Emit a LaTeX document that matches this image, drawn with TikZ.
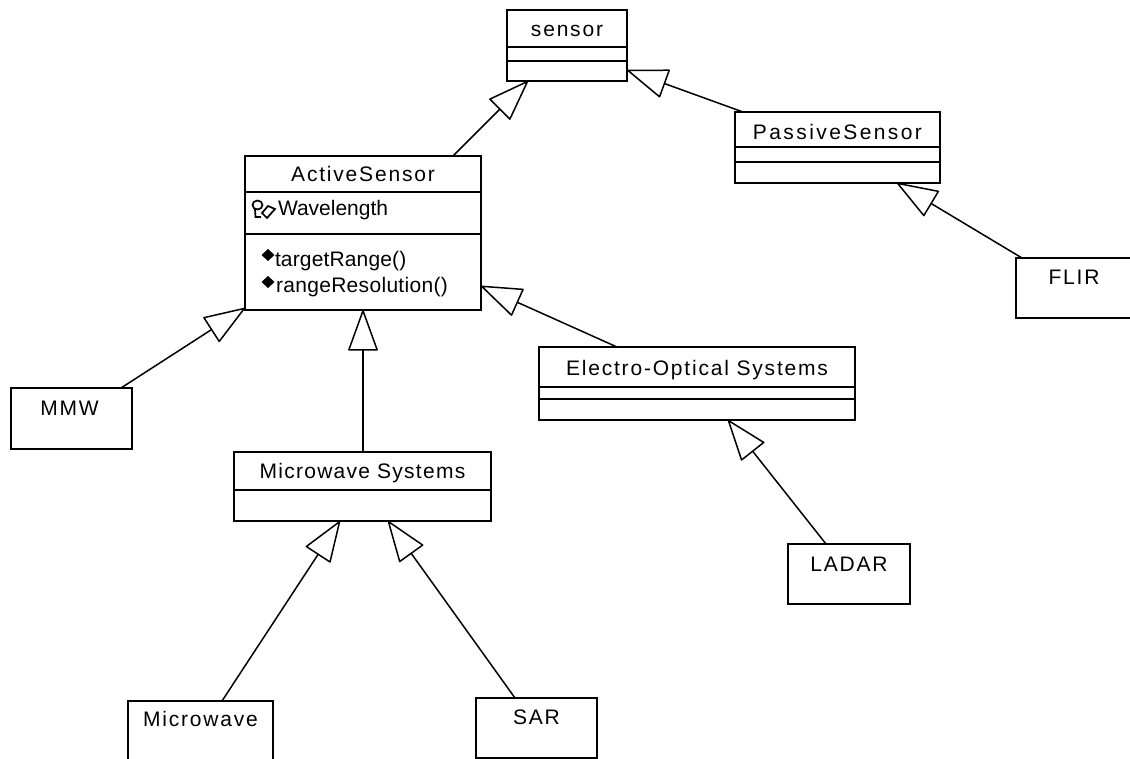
\documentclass[tikz,border=0pt]{standalone}
\usepackage{fontspec}
\setmainfont[LetterSpace=8.6]{Liberation Sans}
\usetikzlibrary{arrows.meta}
\tikzset{
  cbox/.style n args={4}{draw=black, line width=1.8pt, fill=none, anchor=north west, inner sep=0pt, outer sep=0pt,
    align=center, minimum width=#1pt, minimum height=#2pt, text height=#3pt, text depth=#4pt,
    font=\fontsize{21}{25}\selectfont},
  divider/.style={draw=black, line width=1.8pt},
  gen/.style={draw=black, line width=1.5pt, -{Triangle[open,length=42pt,width=30pt,round]}},
  member/.style={anchor=base west, inner sep=0pt, outer sep=0pt, font=\fontsize{21}{25}\selectfont},
}
\begin{document}
\begin{tikzpicture}[x=1pt,y=-1pt]
\useasboundingbox (0,0) rectangle (1130,759);
% classes
\node[cbox={120}{71}{27}{44}] (sensor) at (507,10) {sensor};
\node[cbox={205}{71}{28}{43}] (passive) at (735,112) {\addfontfeature{LetterSpace=11.5}PassiveSensor};
\node[cbox={236}{154}{26}{128}] (active) at (245,156) {ActiveSensor};
\node[cbox={316}{73}{28}{45}] (electro) at (539,347) {Electro-Optical Systems};
\node[cbox={257}{69}{26}{43}] (mwsys) at (234,452) {\addfontfeature{LetterSpace=6}Microwave Systems};
\node[cbox={121}{61}{27}{34}] (mmw) at (11,388) {\hspace*{-4pt}MMW};
\node[cbox={116}{60}{27}{33}] (flir) at (1016,258) {FLIR};
\node[cbox={122}{60}{27}{33}] (ladar) at (788,544) {LADAR};
\node[cbox={145}{65}{25}{40}] (mwave) at (128,701) {Microwave};
\node[cbox={121}{60}{26}{34}] (sar) at (476,698) {SAR};
% compartments
\draw[divider] (sensor.west |- 0,47) -- (sensor.east |- 0,47);
\draw[divider] (sensor.west |- 0,61) -- (sensor.east |- 0,61);
\draw[divider] (passive.west |- 0,147) -- (passive.east |- 0,147);
\draw[divider] (passive.west |- 0,162) -- (passive.east |- 0,162);
\draw[divider] (active.west |- 0,192) -- (active.east |- 0,192);
\draw[divider] (active.west |- 0,234) -- (active.east |- 0,234);
\draw[divider] (electro.west |- 0,387) -- (electro.east |- 0,387);
\draw[divider] (electro.west |- 0,399) -- (electro.east |- 0,399);
\draw[divider] (mwsys.west |- 0,490) -- (mwsys.east |- 0,490);
% members
\node[member] (wl) at (278,216) {\addfontfeature{LetterSpace=0}Wavelength};
\node[member] (tr) at (275,267) {\addfontfeature{LetterSpace=0.7}targetRange()};
\node[member] (rr) at (276,293) {\addfontfeature{LetterSpace=1.5}rangeResolution()};
% key icon
\draw[line width=1.7pt] (257.5,205) ellipse (5 and 4.5);
\draw[line width=1.7pt] (255,209) -- (255.5,217) -- (261,217);
\draw[line width=1.7pt] (262,213) -- (268,206) -- (275,209) -- (267,218) -- cycle;
% operation diamonds
\fill (268,249) -- (274.5,255) -- (268,261) -- (261.5,255) -- cycle;
\fill (268,276) -- (274.5,282) -- (268,288) -- (261.5,282) -- cycle;
% generalisations
\draw[gen] (active.north -| 453,0) -- (sensor.south -| 528,0);
\draw[gen] (passive.north -| 743,0) -- (sensor.east |- 0,70);
\draw[gen] (flir.north -| 1022,0) -- (passive.south -| 897,0);
\draw[gen] (mmw.north -| 121,0) -- (active.west |- 0,308);
\draw[gen] (mwsys.north -| 363,0) -- (active.south -| 363,0);
\draw[gen] (electro.north -| 617,0) -- (active.east |- 0,286);
\draw[gen] (ladar.north -| 826,0) -- (electro.south -| 728,0);
\draw[gen] (mwave.north -| 222,0) -- (mwsys.south -| 340,0);
\draw[gen] (sar.north -| 515,0) -- (mwsys.south -| 388,0);
\end{tikzpicture}
\end{document}
